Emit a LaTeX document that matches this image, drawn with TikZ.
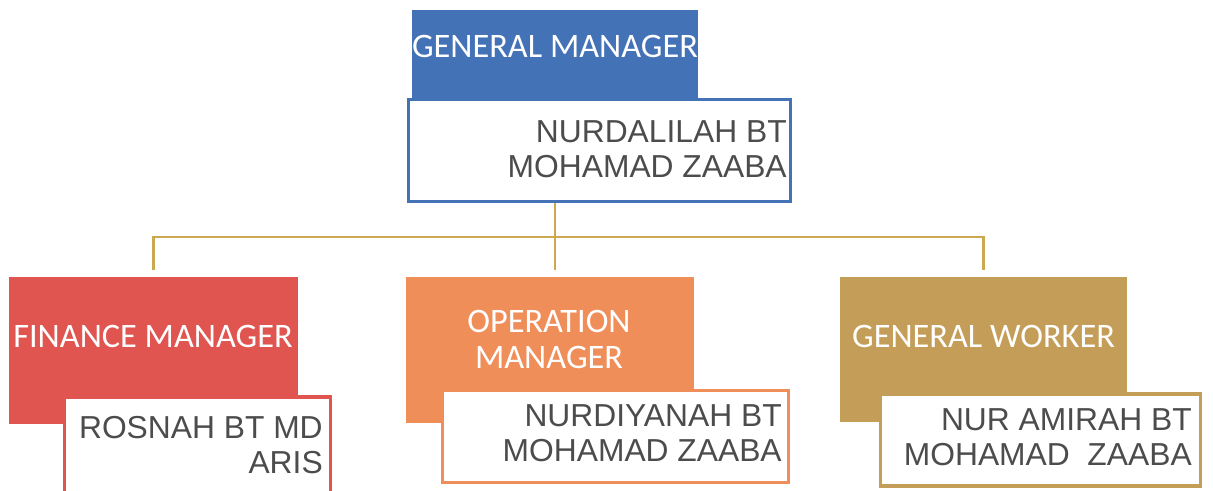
\documentclass[tikz,border=0pt]{standalone}
\usepackage{fontspec}
\setmainfont{Liberation Sans}
\newfontfamily\titlefont{Carlito}
\definecolor{gmblue}{HTML}{4472B6}
\definecolor{finred}{HTML}{E05550}
\definecolor{oporange}{HTML}{F08E5A}
\definecolor{wkgold}{HTML}{C49D58}
\definecolor{linkgold}{HTML}{CCA850}
\definecolor{namegray}{HTML}{4C4C4C}
\begin{document}
\begin{tikzpicture}[x=0.025cm, y=-0.025cm,
		rolebox/.style={rectangle, inner sep=0pt, minimum width=#1*0.025cm},
		namebox/.style={rectangle, fill=white, draw=#1, line width=2.2pt, inner sep=0pt},
		roletext/.style={font=\titlefont\fontsize{24.4}{25.6}\selectfont, text=white, align=center, inner sep=0pt},
		nametext/.style={font=\fontsize{22.6}{25}\selectfont, text=namegray, align=right, inner sep=0pt},
		link/.style={draw=linkgold, line width=2pt}]
			\clip (0,0) rectangle (1213,491);
			% general manager
			\node[rolebox=286, fill=gmblue, minimum height=3.5cm] (gm) at (555,80) {};
			\node[roletext] (gmt) at (555,46.5) {GENERAL MANAGER};
			\node[namebox=gmblue, minimum width=9.55cm, minimum height=2.55cm] (gmname) at (599.5,150.5) {};
			\node[nametext, anchor=east] (gmn) at (787,149) {NURDALILAH BT\\MOHAMAD ZAABA};
			% finance
			\node[rolebox=289, fill=finred, minimum height=3.675cm] (fin) at (153.5,350.5) {};
			\node[roletext] (fint) at (153,336.5) {FINANCE MANAGER};
			\node[namebox=finred, minimum width=6.65cm, minimum height=3cm] (finname) at (197.5,457) {};
			\node[nametext, anchor=east] (finn) at (323,445) {ROSNAH BT MD\\ARIS};
			% operation
			\node[rolebox=288, fill=oporange, minimum height=3.65cm] (op) at (550,350) {};
			\node[roletext] (opt) at (549,339) {OPERATION\\MANAGER};
			\node[namebox=oporange, minimum width=8.65cm, minimum height=2.3cm] (opname) at (615.5,436.5) {};
			\node[nametext, anchor=east] (opn) at (782,433.5) {NURDIYANAH BT\\MOHAMAD ZAABA};
			% general worker
			\node[rolebox=287, fill=wkgold, minimum height=3.625cm] (wk) at (983.5,349.5) {};
			\node[roletext] (wkt) at (983.5,336.5) {GENERAL WORKER};
			\node[namebox=wkgold, minimum width=8cm, minimum height=2.3cm] (wkname) at (1040.5,440) {};
			\node[nametext, anchor=east] (wkn) at (1192,437.5) {NUR AMIRAH BT\\MOHAMAD~~ZAABA};
			% connectors
			\coordinate (bus) at (555,237);
			\draw[link, shorten <=5pt, shorten >=5pt] (fin.north) -- (fin.north |- bus) -- (wk.north |- bus) -- (wk.north);
			\draw[link, shorten >=5pt] (gm |- gmname.south) -- (gm |- op.north);
		\end{tikzpicture}
\end{document}
